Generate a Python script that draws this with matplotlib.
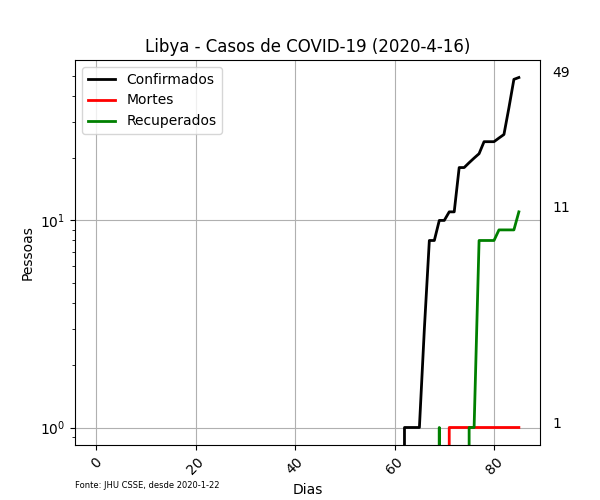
"""Libya COVID-19 cases, log scale, recreated from the JHU CSSE series."""

import matplotlib

matplotlib.use("Agg")
import matplotlib.pyplot as plt
import numpy as np

COUNTRY = "Libya"
DATE = "2020-4-16"
START = "2020-1-22"

# daily values from day 0 (2020-1-22) to day 85 (2020-4-16)
confirmed = [0] * 62 + [1, 1, 1, 1, 3, 8, 8, 10, 10, 11, 11, 18, 18, 19, 20, 21,
                        24, 24, 24, 25, 26, 35, 48, 49]
deaths = [0] * 71 + [1] * 15
recovered = [0] * 69 + [1, 0, 0, 0, 0, 0, 1, 1, 8, 8, 8, 8, 9, 9, 9, 9, 11]

series = [
    ("Confirmados", confirmed, "black"),
    ("Mortes", deaths, "red"),
    ("Recuperados", recovered, "green"),
]


def main() -> None:
    days = np.arange(len(confirmed))
    fig, ax = plt.subplots(figsize=(6, 5), dpi=100)
    for label, values, color in series:
        ax.plot(days, values, color=color, linewidth=2, label=label)
    ax.set_yscale("log")
    ax.grid(True)
    ax.legend(loc="upper left")
    ax.set(title=f"{COUNTRY} - Casos de COVID-19 ({DATE})", xlabel="Dias", ylabel="Pessoas")
    ax.title.set_fontsize(12)
    ax.tick_params(axis="x", labelrotation=45)
    for _, values, _ in series:
        ax.text(days[-1] * 1.08, values[-1], str(values[-1]), fontsize=10)
    fig.text(0.125, 0.025, f"Fonte: JHU CSSE, desde {START}", fontsize=6)
    fig.savefig("out.png", dpi=100)
    plt.close(fig)


if __name__ == "__main__":
    main()
